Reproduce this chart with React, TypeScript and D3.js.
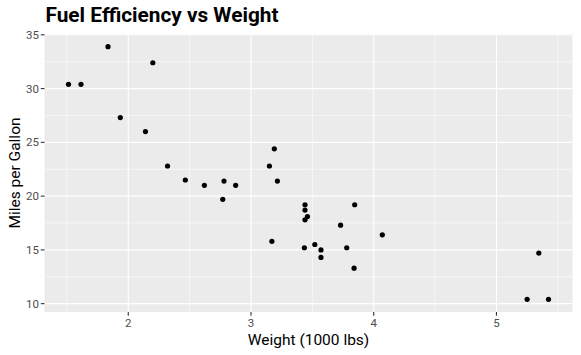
import React from "react";
import * as d3 from "d3";

const wt = [2.62, 2.875, 2.32, 3.215, 3.44, 3.46, 3.57, 3.19, 3.15, 3.44, 3.44, 4.07, 3.73, 3.78, 5.25, 5.424, 5.345, 2.2, 1.615, 1.835, 2.465, 3.52, 3.435, 3.84, 3.845, 1.935, 2.14, 1.513, 3.17, 2.77, 3.57, 2.78];
const mpg = [21.0, 21.0, 22.8, 21.4, 18.7, 18.1, 14.3, 24.4, 22.8, 19.2, 17.8, 16.4, 17.3, 15.2, 10.4, 10.4, 14.7, 32.4, 30.4, 33.9, 21.5, 15.5, 15.2, 13.3, 19.2, 27.3, 26.0, 30.4, 15.8, 19.7, 15.0, 21.4];
const xTicks = [2, 3, 4, 5];
const yTicks = [10, 15, 20, 25, 30, 35];
const xMinor = [1.5, 2.5, 3.5, 4.5, 5.5];
const yMinor = [12.5, 17.5, 22.5, 27.5, 32.5];

export default function App() {
  const W = 581, H = 355;
  const L = 44.5, R = 572.5, T = 34, B = 312;
  const xe = d3.extent(wt) as [number, number];
  const ye = d3.extent(mpg) as [number, number];
  const xp = (xe[1] - xe[0]) * 0.05, yp = (ye[1] - ye[0]) * 0.05;
  const x = d3.scaleLinear().domain([xe[0] - xp, xe[1] + xp]).range([L, R]);
  const y = d3.scaleLinear().domain([ye[0] - yp, ye[1] + yp]).range([B, T]);
  const font = "Roboto, 'Liberation Sans', Arial, sans-serif";
  return (
    <svg width={W} height={H} style={{ position: "absolute", left: 0, top: 0 }} fontFamily={font}>
      <rect x={0} y={0} width={W} height={H} fill="#fff" />
      <rect x={L} y={T} width={R - L} height={B - T} fill="#EBEBEB" />
      {xMinor.map((v) => (
        <line key={"xm" + v} x1={x(v)} x2={x(v)} y1={T} y2={B} stroke="#fff" strokeWidth={0.55} />
      ))}
      {yMinor.map((v) => (
        <line key={"ym" + v} x1={L} x2={R} y1={y(v)} y2={y(v)} stroke="#fff" strokeWidth={0.55} />
      ))}
      {xTicks.map((v) => (
        <line key={"xM" + v} x1={x(v)} x2={x(v)} y1={T} y2={B} stroke="#fff" strokeWidth={1.1} />
      ))}
      {yTicks.map((v) => (
        <line key={"yM" + v} x1={L} x2={R} y1={y(v)} y2={y(v)} stroke="#fff" strokeWidth={1.1} />
      ))}
      {wt.map((v, i) => (
        <circle key={i} cx={x(v)} cy={y(mpg[i])} r={2.6} fill="#000" />
      ))}
      {xTicks.map((v) => (
        <g key={"xt" + v}>
          <line x1={x(v)} x2={x(v)} y1={B} y2={B + 3.7} stroke="#333" strokeWidth={1.1} />
          <text x={x(v)} y={B + 15} textAnchor="middle" fontSize={11.5} fill="#4D4D4D">{v}</text>
        </g>
      ))}
      {yTicks.map((v) => (
        <g key={"yt" + v}>
          <line x1={L - 3.7} x2={L} y1={y(v)} y2={y(v)} stroke="#333" strokeWidth={1.1} />
          <text x={L - 5.5} y={y(v) + 4} textAnchor="end" fontSize={11.5} fill="#4D4D4D">{v}</text>
        </g>
      ))}
      <text x={(L + R) / 2} y={345} textAnchor="middle" fontSize={15.5} fill="#000">Weight (1000 lbs)</text>
      <text transform={`translate(19.5, ${(T + B) / 2}) rotate(-90)`} textAnchor="middle" fontSize={15.5} fill="#000">Miles per Gallon</text>
      <text x={L + 1} y={21.5} fontSize={20.8} fontWeight="bold" fill="#000">Fuel Efficiency vs Weight</text>
    </svg>
  );
}
